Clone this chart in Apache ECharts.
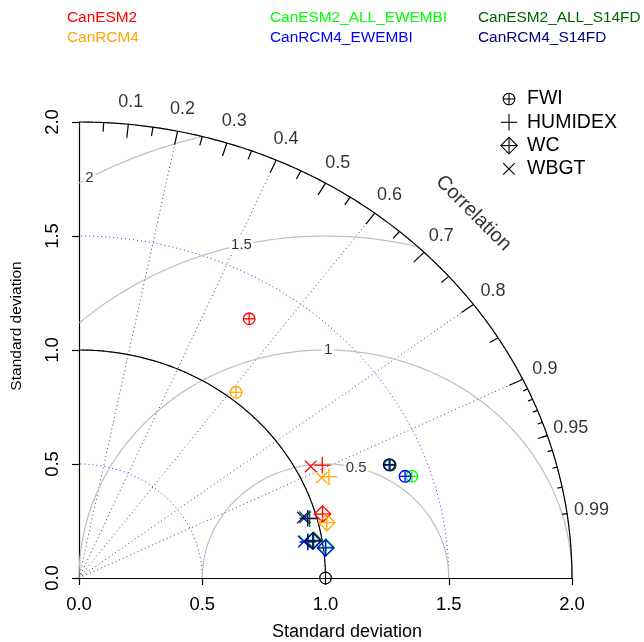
<!DOCTYPE html>
<html><head><meta charset="utf-8">
<script src="https://cdn.jsdelivr.net/npm/echarts@6/dist/echarts.min.js"></script>
<style>html,body{margin:0;padding:0;background:#fff}#c{width:644px;height:642px}</style>
</head><body><div id="c"></div>
<script>
// ---------------- DATA ----------------
const models = ['CanESM2', 'CanRCM4', 'CanESM2_ALL_EWEMBI', 'CanRCM4_EWEMBI', 'CanESM2_ALL_S14FD', 'CanRCM4_S14FD'];
const modelColors = ['#FF0000', '#FFA500', '#00FF00', '#0000FF', '#006400', '#000080'];
const indices = ['FWI', 'HUMIDEX', 'WC', 'WBGT'];
// normalised standard deviation, per index (FWI, HUMIDEX, WC, WBGT)
const sdCanESM2 = [1.330, 1.104, 1.027, 1.060];
const sdCanRCM4 = [1.034, 1.107, 1.034, 1.078];
const sdCanESM2_ALL_EWEMBI = [1.422, 0.944, 1.011, 0.929];
const sdCanRCM4_EWEMBI = [1.396, 0.941, 1.009, 0.926];
const sdCanESM2_ALL_S14FD = [1.356, 0.971, 0.966, 0.955];
const sdCanRCM4_S14FD = [1.353, 0.964, 0.962, 0.946];
// correlation with reference, per index
const corCanESM2 = [0.519, 0.894, 0.962, 0.887];
const corCanRCM4 = [0.616, 0.916, 0.972, 0.913];
const corCanESM2_ALL_EWEMBI = [0.9495, 0.9855, 0.991, 0.9847];
const corCanRCM4_EWEMBI = [0.9476, 0.9858, 0.9914, 0.985];
const corCanESM2_ALL_S14FD = [0.931, 0.9634, 0.9853, 0.9604];
const corCanRCM4_S14FD = [0.930, 0.9624, 0.9857, 0.960];
const refSD = 1.0;
const maxSD = 2.0;
const sdTicks = [0, 0.5, 1, 1.5, 2];
const corrLabels = [0.1, 0.2, 0.3, 0.4, 0.5, 0.6, 0.7, 0.8, 0.9, 0.95, 0.99];
const corrRays = [0.2, 0.4, 0.6, 0.8, 0.9];
const sdArcs = [0.5, 1, 1.5, 2];
const rmsLevels = [0.5, 1, 1.5, 2];

const sdAll = [sdCanESM2, sdCanRCM4, sdCanESM2_ALL_EWEMBI, sdCanRCM4_EWEMBI, sdCanESM2_ALL_S14FD, sdCanRCM4_S14FD];
const corAll = [corCanESM2, corCanRCM4, corCanESM2_ALL_EWEMBI, corCanRCM4_EWEMBI, corCanESM2_ALL_S14FD, corCanRCM4_S14FD];

// ---------------- HELPERS ----------------
const FONT = '"Liberation Sans", Arial, Helvetica, sans-serif';
const polar = (sd, r) => [sd * r, sd * Math.sqrt(Math.max(0, 1 - r * r))];

function quarterArc(rad) {
  const pts = [];
  const n = 400;
  for (let i = 0; i <= n; i++) {
    const t = (Math.PI / 2) * i / n;
    pts.push([rad * Math.cos(t), rad * Math.sin(t)]);
  }
  return pts;
}
function rmsArc(g) {
  const pts = [];
  const n = 1500;
  for (let i = 0; i <= n; i++) {
    const t = Math.PI * i / n;
    const x = refSD + g * Math.cos(t), y = g * Math.sin(t);
    if (x >= -1e-9 && x * x + y * y <= maxSD * maxSD + 1e-9) pts.push([x, y]);
  }
  return pts;
}

const SYM_R = 5.8;
function markerShapes(cx, cy, type, color, r, lw) {
  const s = Math.SQRT2 * r;
  const st = { stroke: color, fill: 'none', lineWidth: lw };
  const line = (x1, y1, x2, y2) => ({ type: 'line', shape: { x1, y1, x2, y2 }, style: st });
  if (type === 0) return [{ type: 'circle', shape: { cx, cy, r }, style: st }, line(cx - r, cy, cx + r, cy), line(cx, cy - r, cx, cy + r)];
  if (type === 1) return [line(cx - s, cy, cx + s, cy), line(cx, cy - s, cx, cy + s)];
  if (type === 2) return [{ type: 'polygon', shape: { points: [[cx - s, cy], [cx, cy - s], [cx + s, cy], [cx, cy + s]] }, style: st }, line(cx - s, cy, cx + s, cy), line(cx, cy - s, cx, cy + s)];
  return [line(cx - r, cy - r, cx + r, cy + r), line(cx - r, cy + r, cx + r, cy - r)];
}

// ---------------- SERIES ----------------
const series = [];
// blue dotted sd arcs
sdArcs.forEach(rad => series.push({
  type: 'line', data: quarterArc(rad), showSymbol: false, silent: true, clip: false, z: 1,
  lineStyle: { color: '#3030FF', width: 1, type: [1, 3] }
}));
// gray centred RMS arcs
rmsLevels.forEach(g => series.push({
  type: 'line', data: rmsArc(g), showSymbol: false, silent: true, clip: false, z: 2,
  lineStyle: { color: '#BEBEBE', width: 1.2 }
}));
// correlation rays
series.push({
  type: 'lines', coordinateSystem: 'cartesian2d', silent: true, z: 2,
  lineStyle: { color: '#444', width: 1, type: [1, 3], opacity: 1 },
  data: corrRays.map(r => ({ coords: [[0, 0], polar(maxSD, r)] }))
});
// outer arc and reference arc
[maxSD, refSD].forEach(rad => series.push({
  type: 'line', data: quarterArc(rad), showSymbol: false, silent: true, clip: false, z: 3,
  lineStyle: { color: '#000', width: 1.2 }
}));
// ticks on correlation arc
const tickSegs = [];
for (let i = 1; i <= 9; i++) { const r = i / 10; tickSegs.push({ coords: [polar(maxSD, r), polar(maxSD * 0.97, r)] }); }
for (let i = 0; i < 10; i++) { const r = 0.05 + i * 0.1; tickSegs.push({ coords: [polar(maxSD, r), polar(maxSD * 0.98, r)] }); }
for (let i = 1; i <= 9; i++) { const r = 0.9 + i / 100; tickSegs.push({ coords: [polar(maxSD, r), polar(maxSD * 0.99, r)] }); }
series.push({
  type: 'lines', coordinateSystem: 'cartesian2d', silent: true, z: 3,
  lineStyle: { color: '#000', width: 1.2, opacity: 1 }, data: tickSegs
});
// RMS labels (boxed, white background)
const labelAngles = [45, 53.33, 61.67, 70].map(p => (Math.floor(p) - 1) * 0.03);
series.push({
  type: 'scatter', symbolSize: 0, silent: true, clip: false, z: 4,
  data: rmsLevels.map((g, i) => ({ value: [refSD + g * Math.cos(labelAngles[i]), g * Math.sin(labelAngles[i])], name: String(g) })),
  label: { show: true, position: 'inside', formatter: p => p.name, color: '#000', fontSize: 15, fontFamily: FONT, backgroundColor: '#fff', padding: [1, 2] }
});
// correlation labels
series.push({
  type: 'scatter', symbolSize: 0, silent: true, clip: false, z: 4,
  data: corrLabels.map(r => ({ value: polar(maxSD * 1.05, r), name: String(r) })),
  label: { show: true, position: 'inside', formatter: p => p.name, color: '#000', fontSize: 18, fontFamily: FONT }
});
// "Correlation" title
series.push({
  type: 'scatter', symbolSize: 0, silent: true, clip: false, z: 4,
  data: [{ value: [maxSD * 0.8, maxSD * 0.8], name: 'Correlation' }],
  label: { show: true, position: 'inside', formatter: 'Correlation', rotate: -45, color: '#000', fontSize: 20, fontFamily: FONT }
});
// reference point
series.push({
  type: 'custom', clip: false, silent: true, z: 5,
  data: [[refSD, 0]],
  renderItem: (params, api) => {
    const p = api.coord([api.value(0), api.value(1)]);
    return { type: 'circle', shape: { cx: p[0], cy: p[1], r: SYM_R }, style: { stroke: '#000', fill: 'none', lineWidth: 1.2 } };
  }
});
// model points
models.forEach((m, mi) => {
  series.push({
    type: 'custom', name: m, clip: false, silent: true, z: 6,
    data: indices.map((idx, k) => { const xy = polar(sdAll[mi][k], corAll[mi][k]); return [xy[0], xy[1], k]; }),
    renderItem: (params, api) => {
      const p = api.coord([api.value(0), api.value(1)]);
      return { type: 'group', children: markerShapes(p[0], p[1], api.value(2), modelColors[mi], SYM_R, 1.3) };
    }
  });
});

// ---------------- GRAPHICS (legends, axis titles) ----------------
const graphic = [];
const legPos = [[67, 18], [67, 38], [270, 18], [270, 38], [478, 18], [478, 38]];
models.forEach((m, i) => graphic.push({
  type: 'text', x: legPos[i][0], y: legPos[i][1],
  style: { text: m, fill: modelColors[i], font: '15.4px ' + FONT, verticalAlign: 'middle', align: 'left' }
}));
indices.forEach((name, k) => {
  const y = 99 + k * 23.3;
  graphic.push({ type: 'group', children: markerShapes(509, y, k, '#000', 5.8, 1.1) });
  graphic.push({ type: 'text', x: 527, y: y, style: { text: name, fill: '#000', font: '19.5px ' + FONT, verticalAlign: 'middle', align: 'left' } });
});
graphic.push({ type: 'text', x: 347, y: 632, style: { text: 'Standard deviation', fill: '#000', font: '18px ' + FONT, verticalAlign: 'middle', align: 'center' } });
graphic.push({ type: 'text', x: 17, y: 326, rotation: Math.PI / 2, style: { text: 'Standard deviation', fill: '#000', font: '15.5px ' + FONT, verticalAlign: 'middle', align: 'center' } });

const axisCommon = {
  type: 'value', min: 0, max: maxSD, interval: 0.5,
  axisLine: { show: true, onZero: false, lineStyle: { color: '#000', width: 1.2 } },
  axisTick: { show: true, length: 7, lineStyle: { color: '#000', width: 1.2 } },
  splitLine: { show: false },
  axisLabel: { color: '#000', fontSize: 18.5, fontFamily: FONT, margin: 17, formatter: v => v.toFixed(1) }
};

const chart = echarts.init(document.getElementById('c'), null, { renderer: 'canvas' });
chart.setOption({
  animation: false,
  backgroundColor: '#fff',
  grid: { left: 79, top: 122, width: 493, height: 456, containLabel: false },
  xAxis: Object.assign({}, axisCommon),
  yAxis: Object.assign({}, axisCommon, { axisLabel: Object.assign({}, axisCommon.axisLabel, { rotate: 90, margin: 17 }) }),
  graphic: graphic,
  series: series
});
</script></body></html>
